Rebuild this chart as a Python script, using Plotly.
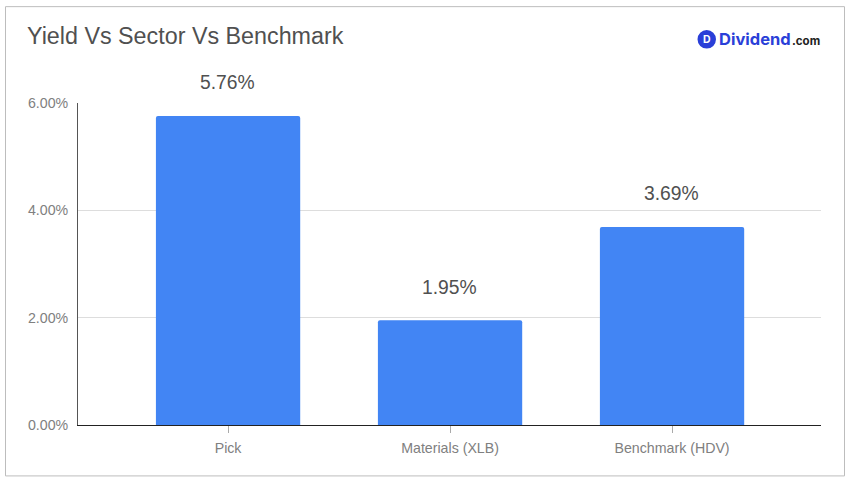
import plotly.graph_objects as go

categories = ["Pick", "Materials (XLB)", "Benchmark (HDV)"]
yields = [5.76, 1.95, 3.69]
y_ticks = [0, 2, 4, 6]
title_text = "Yield Vs Sector Vs Benchmark"

WIDTH, HEIGHT = 851, 483
LEFT, RIGHT, TOP, BOTTOM = 78, 821, 103, 425.5
FONT = "Liberation Sans, Arial, sans-serif"


def px(x):
    return (x - LEFT) / (RIGHT - LEFT)


def py(y):
    return (BOTTOM - y) / (BOTTOM - TOP)


fig = go.Figure(
    go.Bar(
        x=[0, 1, 2],
        y=yields,
        width=0.65,
        marker=dict(color="#4285f4", cornerradius=2, line_width=0),
        hoverinfo="skip",
    )
)

# Value labels float well above each bar
annotations = [
    dict(
        x=i, y=v, xref="x", yref="y", text=f"{v:.2f}%", showarrow=False,
        yshift=33, xshift=-1, yanchor="middle", xanchor="center",
        font=dict(family=FONT, size=19.3, color="#505050"),
    )
    for i, v in enumerate(yields)
]

annotations += [
    dict(
        x=px(25), y=py(36), xref="paper", yref="paper", xanchor="left", yanchor="middle",
        text=title_text, showarrow=False,
        font=dict(family=FONT, size=23.3, color="#505050"),
    ),
    # Brand mark in the top right corner
    dict(
        x=px(706.7), y=py(39), xref="paper", yref="paper", xanchor="center", yanchor="middle",
        text="<b>D</b>", showarrow=False,
        font=dict(family="Inter, sans-serif", size=10.5, color="white"),
    ),
    dict(
        x=px(717), y=py(39), xref="paper", yref="paper", xanchor="left", yanchor="middle",
        text="<b>Dividend</b>", showarrow=False,
        font=dict(family="Inter, sans-serif", size=16.5, color="#2a3fd8"),
    ),
    dict(
        x=px(790), y=py(41), xref="paper", yref="paper", xanchor="left", yanchor="middle",
        text="<b>.com</b>", showarrow=False,
        font=dict(family="Inter, sans-serif", size=11.5, color="#222222"),
    ),
]

shapes = [
    # Outer frame
    dict(
        type="rect", xref="paper", yref="paper", layer="below",
        x0=px(5.5), x1=px(844.5), y0=py(476.5), y1=py(6.5),
        line=dict(color="#bdbdbd", width=1), fillcolor="white",
    ),
    dict(
        type="circle", xref="paper", yref="paper",
        x0=px(697.5), x1=px(716), y0=py(48.5), y1=py(30),
        line_width=0, fillcolor="#2a3fd8", layer="below",
    ),
]

fig.update_layout(
    width=WIDTH,
    height=HEIGHT,
    margin=dict(l=LEFT, r=WIDTH - RIGHT, t=TOP, b=HEIGHT - BOTTOM, pad=0),
    paper_bgcolor="white",
    plot_bgcolor="rgba(0,0,0,0)",
    showlegend=False,
    annotations=annotations,
    shapes=shapes,
    font=dict(family=FONT, color="#808080", size=14),
    xaxis=dict(
        range=[-0.676, 2.671],
        tickmode="array",
        tickvals=[0, 1, 2],
        ticktext=categories,
        ticks="outside",
        ticklen=7,
        tickcolor="#aaaaaa",
        ticklabelstandoff=3,
        showgrid=False,
        showline=True,
        linecolor="#222222",
        linewidth=1,
        zeroline=False,
        layer="below traces",
        tickfont=dict(family=FONT, size=14.2, color="#808080"),
    ),
    yaxis=dict(
        range=[0, 6],
        tickmode="array",
        tickvals=y_ticks,
        ticktext=[f"{t:.2f}%" for t in y_ticks],
        ticks="",
        ticklabelstandoff=6,
        showgrid=True,
        gridcolor="#dddddd",
        gridwidth=1,
        showline=True,
        linecolor="#555555",
        linewidth=1,
        zeroline=False,
        layer="below traces",
        tickfont=dict(family=FONT, size=14.2, color="#808080"),
    ),
)

fig.write_html("out.html", config=dict(displayModeBar=False))
